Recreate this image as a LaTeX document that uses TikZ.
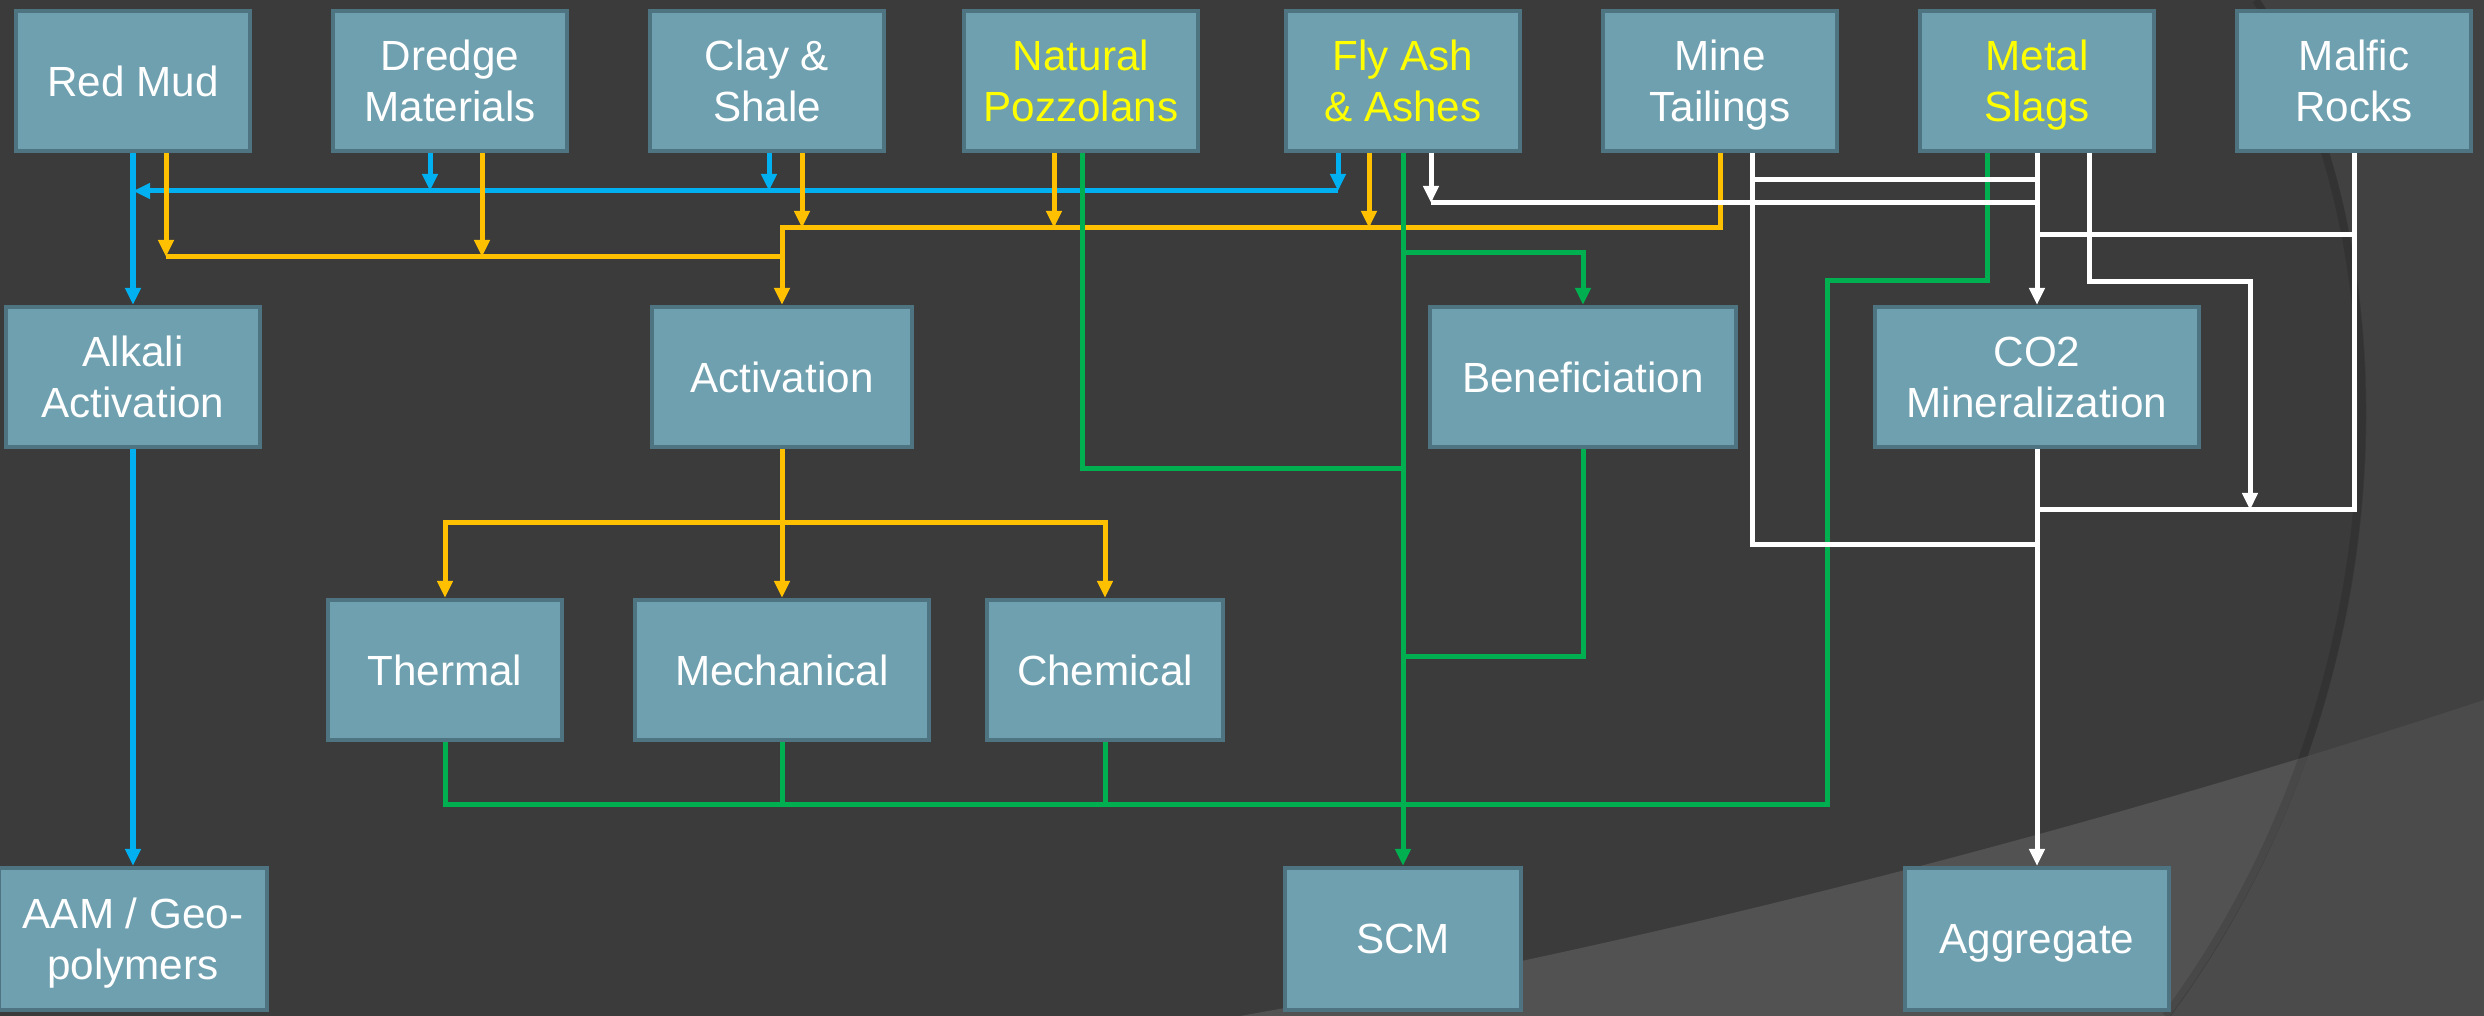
\documentclass[tikz,border=0pt]{standalone}
\usepackage{fontspec}
\setmainfont{Liberation Sans}
\usetikzlibrary{
  arrows.meta,
  positioning,
  calc
}
\definecolor{cmBack}{HTML}{3B3B3B}
\definecolor{cmBackRing}{HTML}{414141}
\definecolor{cmBackLt}{HTML}{525252}
\definecolor{cmBackLtRing}{HTML}{4B4B4B}
\definecolor{cmFill}{HTML}{6FA0AF}
\definecolor{cmEdge}{HTML}{4E7482}
\definecolor{cmBlue}{HTML}{00B0F0}
\definecolor{cmGold}{HTML}{FFC000}
\definecolor{cmGreen}{HTML}{00B050}
\definecolor{cmHi}{HTML}{FFFF00}
\tikzset{
  cmnode/.style={
    draw=cmEdge, fill=cmFill, line width=0.4mm, text=white, align=center,
    inner sep=0pt, minimum height=14mm, text depth=0pt,
    font=\fontsize{12}{14.5}\selectfont
  },
  source/.style={cmnode, minimum width=23.4mm},
  hot/.style={text=cmHi},
  route/.style={line width=0.5mm},
  tip/.style={-{Triangle[length=1.7mm, width=1.5mm]}},
  bluefeed/.style={route, cmBlue},
  goldfeed/.style={route, cmGold},
  greenfeed/.style={route, cmGreen},
  whitefeed/.style={route, white}
}

\begin{document}
\begin{tikzpicture}[x=0.01cm, y=-0.01cm]
  % backdrop
  \useasboundingbox (0,0) rectangle (2484,1016);
  \fill[cmBack] (0,0) rectangle (2484,1016);
  \fill[cmBackLt] (1240,1016) .. controls (1700,935) and (2150,810) .. (2484,700) -- (2484,1016) -- cycle;
  \begin{scope}
    \clip (2260,0) .. controls (2410,230) and (2420,680) .. (2170,1016) -- (2484,1016) -- (2484,0) -- cycle;
    \fill[cmBackRing] (0,0) rectangle (2484,1016);
    \fill[cmBackLtRing] (1240,1016) .. controls (1700,935) and (2150,810) .. (2484,700) -- (2484,1016) -- cycle;
  \end{scope}
  \draw[black, opacity=0.12, line width=0.8mm] (2256,0) .. controls (2405,230) and (2415,680) .. (2166,1016);

  % raw materials
  \node[source] (redmud) at (133,81) {Red Mud};
  \node[source] (dredge) at (450,81) {Dredge\\Materials};
  \node[source] (clay) at (767,81) {Clay \&\\Shale};
  \node[source, hot] (pozz) at (1081,81) {Natural\\Pozzolans};
  \node[source, hot] (flyash) at (1403,81) {Fly Ash\\\& Ashes};
  \node[source] (tailings) at (1720,81) {Mine\\Tailings};
  \node[source, hot] (slags) at (2037,81) {Metal\\Slags};
  \node[source] (malfic) at (2354,81) {Malfic\\Rocks};

  % treatments
  \node[cmnode, minimum width=25.4mm] (alkali) at (133,377) {Alkali\\Activation};
  \node[cmnode, minimum width=25.9mm] (activ) at (782,377) {Activation};
  \node[cmnode, minimum width=30.5mm] (benef) at (1583,377) {Beneficiation};
  \node[cmnode, minimum width=32.4mm] (co2) at (2037,377) {CO2\\Mineralization};
  \node[cmnode, minimum width=23.4mm] (thermal) at (445,670) {Thermal};
  \node[cmnode, minimum width=29.3mm] (mech) at (782,670) {Mechanical};
  \node[cmnode, minimum width=23.6mm] (chem) at (1105,670) {Chemical};

  % products
  \node[cmnode, minimum width=26.7mm, minimum height=14.2mm] (aam) at (133,939) {AAM / Geo-\\polymers};
  \node[cmnode, minimum width=23.5mm, minimum height=14.2mm] (scm) at (1403,939) {SCM};
  \node[cmnode, minimum width=26.3mm, minimum height=14.2mm] (aggr) at (2037,939) {Aggregate};

  % junctions
  \coordinate (bj-red) at (133,191);
  \coordinate (bj-dredge) at (430,191);
  \coordinate (bj-clay) at (769,191);
  \coordinate (bj-fly) at (1338,191);
  \coordinate (yj-red) at (166,257);
  \coordinate (yj-dredge) at (482,257);
  \coordinate (yj-act) at (782,257);
  \coordinate (yj-clay) at (802,228);
  \coordinate (yj-pozz) at (1054,228);
  \coordinate (yj-fly) at (1369,228);
  \coordinate (yj-mine) at (1720,228);
  \coordinate (yj-split) at (782,523);
  \coordinate (gj-pozz) at (1082,469);
  \coordinate (gj-fly) at (1403,253);
  \coordinate (gj-ben) at (1583,657);
  \coordinate (gj-slag) at (1987,281);
  \coordinate (gbus) at (1827,805);
  \coordinate (wj-fly) at (1431,203);
  \coordinate (wj-mine) at (1752,180);
  \coordinate (wj-minelow) at (1752,545);
  \coordinate (wj-malup) at (2354,235);
  \coordinate (wj-mallow) at (2354,510);
  \coordinate (wj-slag2) at (2089,282);
  \coordinate (wj-loop) at (2250,510);

  % alkali route
  \draw[bluefeed, tip] (dredge.south -| bj-dredge) -- (bj-dredge);
  \draw[bluefeed, tip] (clay.south -| bj-clay) -- (bj-clay);
  \draw[bluefeed, tip] (flyash.south -| bj-fly) -- (bj-fly);
  \draw[bluefeed, tip] (bj-fly) -- (bj-red);
  \draw[bluefeed, tip] (redmud.south) -- (alkali.north);
  \draw[bluefeed, tip] (alkali.south) -- (aam.north);

  % activation route
  \draw[goldfeed, tip] (redmud.south -| yj-red) -- (yj-red);
  \draw[goldfeed, tip] (dredge.south -| yj-dredge) -- (yj-dredge);
  \draw[goldfeed] (yj-red) -- (yj-act);
  \draw[goldfeed, tip] (tailings.south -| yj-mine) -- (yj-mine) -- (yj-mine -| activ.north) -- (activ.north);
  \draw[goldfeed, tip] (clay.south -| yj-clay) -- (yj-clay);
  \draw[goldfeed, tip] (pozz.south -| yj-pozz) -- (yj-pozz);
  \draw[goldfeed, tip] (flyash.south -| yj-fly) -- (yj-fly);
  \draw[goldfeed, tip] (activ.south) -- (mech.north);
  \draw[goldfeed, tip] (yj-split) -| (thermal.north);
  \draw[goldfeed, tip] (yj-split) -| (chem.north);

  % scm route
  \draw[greenfeed] (pozz.south -| gj-pozz) -- (gj-pozz) -- (gj-pozz -| flyash.south);
  \draw[greenfeed, tip] (flyash.south) -- (scm.north);
  \draw[greenfeed, tip] (gj-fly) -| (benef.north);
  \draw[greenfeed] (benef.south) -- (gj-ben) -- (gj-ben -| scm.north);
  \draw[greenfeed] (slags.south -| gj-slag) -- (gj-slag) -| (gbus) -| (thermal.south);
  \draw[greenfeed] (mech.south) -- (mech.south |- gbus);
  \draw[greenfeed] (chem.south) -- (chem.south |- gbus);

  % aggregate route
  \draw[whitefeed, tip] (flyash.south -| wj-fly) -- (wj-fly);
  \draw[whitefeed] (wj-fly) -- (wj-fly -| slags.south);
  \draw[whitefeed] (tailings.south -| wj-mine) -- (wj-minelow) -- (wj-minelow -| co2.south);
  \draw[whitefeed] (wj-mine) -- (wj-mine -| slags.south);
  \draw[whitefeed, tip] (slags.south) -- (co2.north);
  \draw[whitefeed, tip] (co2.south) -- (aggr.north);
  \draw[whitefeed] (malfic.south) -- (wj-mallow) -- (wj-mallow -| co2.south);
  \draw[whitefeed] (wj-malup) -- (wj-malup -| slags.south);
  \draw[whitefeed, tip] (slags.south -| wj-slag2) -- (wj-slag2) -| (wj-loop);
\end{tikzpicture}
\end{document}
